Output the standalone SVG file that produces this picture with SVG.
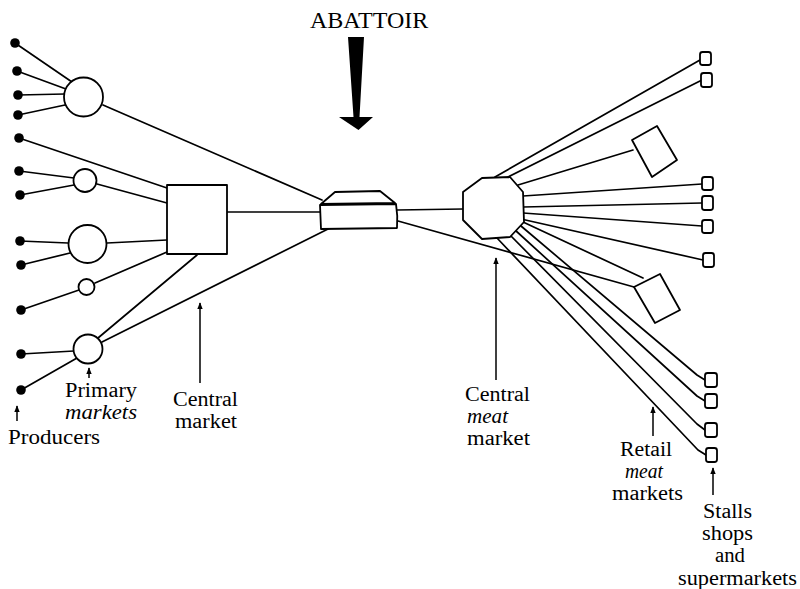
<svg xmlns="http://www.w3.org/2000/svg" width="800" height="589" viewBox="0 0 800 589">
<defs>
<style>
.ln{fill:none;stroke:#000;stroke-width:1.7;stroke-linecap:round;stroke-linejoin:round}
.nd{fill:#fff;stroke:#000;stroke-width:1.8;stroke-linejoin:round}
.dot{fill:#000}
.lbl{fill:#000;stroke:none;font-family:"Liberation Serif","Times New Roman",serif;font-size:20px}
.it{font-style:italic}
.pt{fill:none;stroke:#000;stroke-width:1.5;marker-end:url(#ah)}
</style>
<marker id="ah" viewBox="0 0 10 10" refX="9" refY="5" markerWidth="7" markerHeight="7" markerUnits="userSpaceOnUse" orient="auto">
<path d="M0,1 L10,5 L0,9 Z" fill="#000"/>
</marker>
</defs>
<rect width="800" height="589" fill="#fff"/>

<g id="connectors">
<path class="ln" d="M15,43 L72,82"/>
<path class="ln" d="M17,71 L66,89"/>
<path class="ln" d="M18,95 L65,94"/>
<path class="ln" d="M18,115 L65,105"/>
<path class="ln" d="M19,138 L167,188"/>
<path class="ln" d="M19,171 L74,178"/>
<path class="ln" d="M20,195 L74,185"/>
<path class="ln" d="M20,241 L68,243"/>
<path class="ln" d="M21,265 L70,253"/>
<path class="ln" d="M21,310 L79,290"/>
<path class="ln" d="M21,354 L74,351"/>
<path class="ln" d="M21,390 L77,358"/>
<path class="ln" d="M103,105 L322,200"/>
<path class="ln" d="M97,184 L167,203"/>
<path class="ln" d="M107,243 L167,240"/>
<path class="ln" d="M95,283 L167,252"/>
<path class="ln" d="M98,338 L197,255"/>
<path class="ln" d="M102,342 L330,228"/>
<path class="ln" d="M227,212 L320,212"/>
<path class="ln" d="M397,210 L463,209"/>
<path class="ln" d="M398,221 Q520,255 634,287"/>
<path class="ln" d="M495,177 L700,60"/>
<path class="ln" d="M508,177 L702,80"/>
<path class="ln" d="M518,185 L633,150"/>
<path class="ln" d="M523,196 L702,184"/>
<path class="ln" d="M523,207 L702,203"/>
<path class="ln" d="M523,213 L702,226"/>
<path class="ln" d="M521,219 L703,260"/>
<path class="ln" d="M523,222 L643,278"/>
<path class="ln" d="M521,226 L697,375 L705,380"/>
<path class="ln" d="M515,230 L697,396 L705,401"/>
<path class="ln" d="M509,234 L697,424 L705,430"/>
<path class="ln" d="M497,238 L698,450 L706,455"/>
</g>

<g id="producers">
<circle class="dot" cx="15" cy="43" r="4.8"/>
<circle class="dot" cx="17" cy="71" r="4.8"/>
<circle class="dot" cx="18" cy="95" r="4.8"/>
<circle class="dot" cx="18" cy="115" r="4.8"/>
<circle class="dot" cx="19" cy="138" r="4.8"/>
<circle class="dot" cx="19" cy="171" r="4.8"/>
<circle class="dot" cx="20" cy="195" r="4.8"/>
<circle class="dot" cx="20" cy="241" r="4.8"/>
<circle class="dot" cx="21" cy="265" r="4.8"/>
<circle class="dot" cx="21" cy="310" r="4.8"/>
<circle class="dot" cx="21" cy="354" r="4.8"/>
<circle class="dot" cx="21" cy="390" r="4.8"/>
</g>

<g id="primary-markets">
<circle class="nd" cx="83.5" cy="97" r="19.5"/>
<circle class="nd" cx="85" cy="180.5" r="11.5"/>
<circle class="nd" cx="87.5" cy="244" r="19"/>
<circle class="nd" cx="86.5" cy="287" r="8"/>
<circle class="nd" cx="88" cy="349" r="14.5"/>
</g>

<g id="central-market">
<rect class="nd" x="167" y="185" width="60" height="69"/>
</g>

<g id="abattoir">
<path class="nd" d="M321,204 L335,192 L380,191 L395,203 Z"/>
<path class="nd" d="M320,205 L396,204 Q398,216 397,228 L321,229 Z"/>
</g>

<g id="central-meat-market">
<path class="nd" d="M463,192 L482,178 L510,177 L523,192 L524,222 L510,237 L482,239 L463,220 Z"/>
</g>

<g id="retail-meat-markets">
<path class="nd" d="M632,140 L657,126 L677,160 L652,177 Z"/>
<path class="nd" d="M634,287 L660,274 L680,310 L655,323 Z"/>
</g>

<g id="stalls">
<rect class="nd" x="700" y="52" width="11" height="13" rx="2.5"/>
<rect class="nd" x="701" y="73" width="11" height="14" rx="2.5"/>
<rect class="nd" x="702" y="177" width="11" height="13" rx="2.5"/>
<rect class="nd" x="702" y="196" width="11" height="14" rx="2.5"/>
<rect class="nd" x="702" y="220" width="11" height="13" rx="2.5"/>
<rect class="nd" x="703" y="253" width="11" height="14" rx="2.5"/>
<rect class="nd" x="705" y="373" width="12" height="14" rx="2.5"/>
<rect class="nd" x="705" y="394" width="12" height="14" rx="2.5"/>
<rect class="nd" x="705" y="423" width="12" height="14" rx="2.5"/>
<rect class="nd" x="706" y="448" width="11" height="14" rx="2.5"/>
</g>

<g id="abattoir-label">
<text class="lbl" x="310" y="28" style="font-size:24px">ABATTOIR</text>
<path d="M348,37 L364,37 L359.5,117 L373,117 L358.5,130 L339,117 L353.5,117 Z" fill="#000"/>
</g>

<g id="labels">
<path class="pt" d="M17,421 L17,406"/>
<text class="lbl" x="8" y="444" textLength="92" lengthAdjust="spacingAndGlyphs">Producers</text>
<path class="pt" d="M89,378 L89,368"/>
<text class="lbl" x="65" y="397" textLength="72" lengthAdjust="spacingAndGlyphs">Primary</text>
<text class="lbl it" x="65" y="419" textLength="72" lengthAdjust="spacingAndGlyphs">markets</text>
<path class="pt" d="M200,383 L200,303"/>
<text class="lbl" x="173" y="406" textLength="65" lengthAdjust="spacingAndGlyphs">Central</text>
<text class="lbl" x="175" y="428" textLength="62" lengthAdjust="spacingAndGlyphs">market</text>
<path class="pt" d="M496,380 L496,258"/>
<text class="lbl" x="465" y="401" textLength="65" lengthAdjust="spacingAndGlyphs">Central</text>
<text class="lbl it" x="467" y="423" textLength="41" lengthAdjust="spacingAndGlyphs">meat</text>
<text class="lbl" x="467" y="445" textLength="63" lengthAdjust="spacingAndGlyphs">market</text>
<path class="pt" d="M653,436 L653,407"/>
<text class="lbl" x="620" y="456" textLength="52" lengthAdjust="spacingAndGlyphs">Retail</text>
<text class="lbl it" x="625" y="478" textLength="38" lengthAdjust="spacingAndGlyphs">meat</text>
<text class="lbl" x="612" y="500" textLength="71" lengthAdjust="spacingAndGlyphs">markets</text>
<path class="pt" d="M713,495 L713,468"/>
<text class="lbl" x="703" y="518" textLength="49" lengthAdjust="spacingAndGlyphs">Stalls</text>
<text class="lbl" x="702" y="540.2" textLength="51" lengthAdjust="spacingAndGlyphs">shops</text>
<text class="lbl" x="715" y="562.4" textLength="30" lengthAdjust="spacingAndGlyphs">and</text>
<text class="lbl" x="678" y="584.6" textLength="119" lengthAdjust="spacingAndGlyphs">supermarkets</text>
</g>
</svg>
